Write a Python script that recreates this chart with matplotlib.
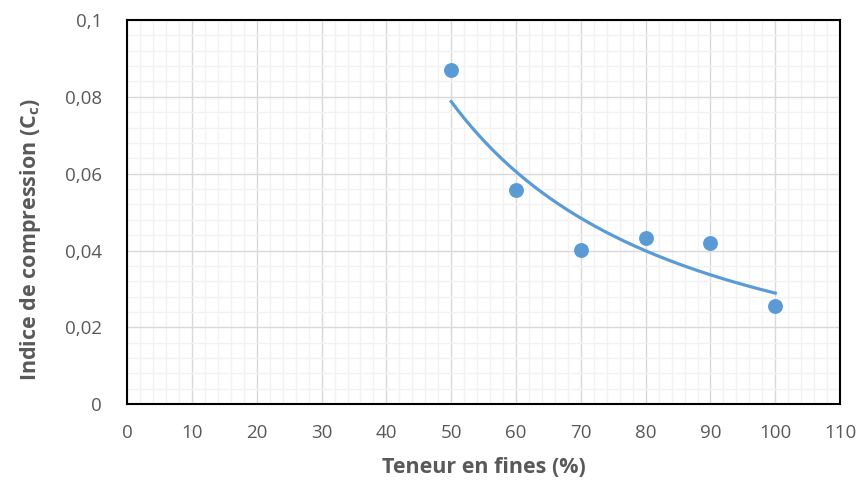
import numpy as np
import matplotlib.pyplot as plt
from matplotlib.ticker import MultipleLocator, FuncFormatter

# Data: fines content (%) vs compression index Cc
fines = np.array([50, 60, 70, 80, 90, 100])
cc = np.array([0.087, 0.0557, 0.0401, 0.0432, 0.0419, 0.0255])

# Power trendline (like Excel's) fitted on the points
b, ln_a = np.polyfit(np.log(fines), np.log(cc), 1)
x_fit = np.linspace(fines.min(), fines.max(), 200)
y_fit = np.exp(ln_a) * x_fit ** b

plt.rcParams['font.family'] = ['Open Sans', 'DejaVu Sans']
plt.rcParams['mathtext.fontset'] = 'custom'
plt.rcParams['mathtext.rm'] = 'Open Sans:bold'

blue = '#5B9BD5'
grey = '#595959'

fig = plt.figure(figsize=(8.59, 4.87), dpi=100)
ax = fig.add_axes([0.148, 0.170, 0.830, 0.789])

ax.plot(x_fit, y_fit, color=blue, lw=2.3, zorder=3)
ax.scatter(fines, cc, s=115, color=blue, zorder=4, linewidths=0)

ax.set_xlim(0, 110)
ax.set_ylim(0, 0.1)
ax.xaxis.set_major_locator(MultipleLocator(10))
ax.xaxis.set_minor_locator(MultipleLocator(2))
ax.yaxis.set_major_locator(MultipleLocator(0.02))
ax.yaxis.set_minor_locator(MultipleLocator(0.004))

def fr_fmt(v, pos):
    s = ('%.2f' % v).rstrip('0').rstrip('.')
    return s.replace('.', ',')

ax.yaxis.set_major_formatter(FuncFormatter(fr_fmt))

ax.grid(which='major', color='#d9d9d9', lw=1.0)
ax.grid(which='minor', color='#f2f2f2', lw=1.0)
ax.set_axisbelow(True)

ax.tick_params(which='both', length=0, labelsize=13.5, colors=grey)
ax.tick_params(axis='x', pad=14)
ax.tick_params(axis='y', pad=18)
for sp in ax.spines.values():
    sp.set_color('black')
    sp.set_linewidth(1.5)

ax.set_xlabel('Teneur en fines (%)', fontsize=15.5, fontweight='bold', color=grey, labelpad=11)
ax.set_ylabel(r'Indice de compression (C$_\mathrm{c}$)', fontsize=15.5, fontweight='bold',
              color=grey, labelpad=14)
ax.yaxis.set_label_coords(-0.118, 0.43)

fig.savefig('out.png', dpi=100)
